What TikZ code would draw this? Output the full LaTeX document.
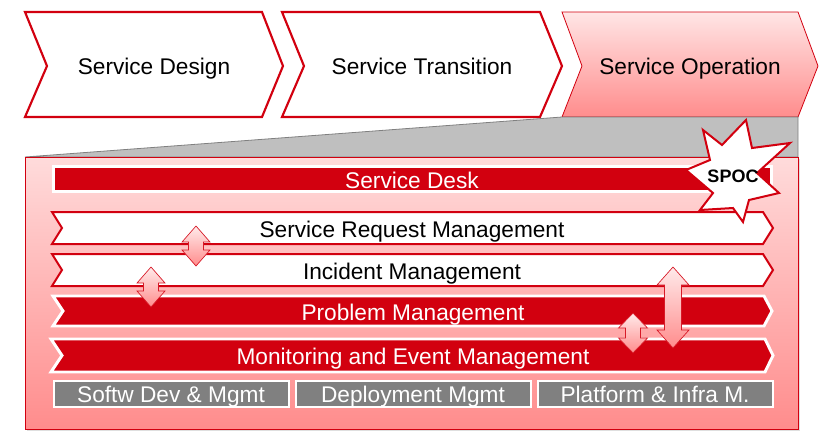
\documentclass[tikz,border=0pt]{standalone}
\usepackage{fontspec}
\setmainfont{Liberation Sans}
\usetikzlibrary{shadows}

\definecolor{itilred}{HTML}{D2000F}
\definecolor{boxgray}{HTML}{808080}
\definecolor{wedgegray}{HTML}{BFBFBF}

\tikzset{
	phase/.style={draw=itilred, line width=1.6pt, fill=white},
	lane/.style={draw=itilred, line width=1.5pt, fill=white},
	redlane/.style={draw=white, line width=2.2pt, fill=itilred},
	graybox/.style={draw=white, line width=2.2pt, fill=boxgray},
	arrowfill/.style={draw=itilred!90, line width=0.5pt, top color=red!8, bottom color=red!45},
	txt/.style={font=\fontsize{17}{20}\selectfont, anchor=base, inner sep=0pt},
	wtxt/.style={txt, text=white}
}

% double headed arrow: x, top, bottom, head half width, shaft half width, head length
\newcommand\biarrow[6]{
	\draw[arrowfill] (#1,#2) -- (#1+#4,#2+#6) -- (#1+#5,#2+#6) -- (#1+#5,#3-#6) -- (#1+#4,#3-#6)
		-- (#1,#3) -- (#1-#4,#3-#6) -- (#1-#5,#3-#6) -- (#1-#5,#2+#6) -- (#1-#4,#2+#6) -- cycle;
}

\begin{document}
\begin{tikzpicture}[x=0.75pt, y=-0.75pt]
	\useasboundingbox (0,0) rectangle (822,437);

	% lifecycle phases
	\draw[phase] (25,12) -- (262,12) -- (283,66) -- (262,117) -- (25,117) -- (47,66) -- cycle;
	\draw[phase] (282,12) -- (540,12) -- (562,66) -- (540,117) -- (282,117) -- (304,66) -- cycle;
	\draw[draw=itilred, line width=0.6pt, top color=red!10, bottom color=red!45]
		(562,12) -- (798,12) -- (818,66) -- (798,117) -- (562,117) -- (582,66) -- cycle;
	\node[txt] (design) at (154,74) {Service Design};
	\node[txt] (transition) at (422,74) {Service Transition};
	\node[txt] (operation) at (690,74) {Service Operation};

	% zoom wedge and operation box
	\draw[draw=gray, line width=0.6pt, fill=wedgegray] (25,157) -- (562,117) -- (798,117) -- (798,157) -- cycle;
	\draw[draw=itilred, line width=0.6pt, top color=red!14, bottom color=red!45,
		drop shadow={opacity=0.25, shadow xshift=1.5pt, shadow yshift=-1.5pt}] (25,157) rectangle (798,429);

	% service desk
	\draw[redlane, drop shadow={opacity=0.2, shadow xshift=1pt, shadow yshift=-1pt}] (53.5,166.5) rectangle (771.5,191.5);
	\node[wtxt] (desk) at (412,188) {Service Desk};

	% processes
	\draw[lane] (52,212) -- (763,212) -- (773,228) -- (763,244) -- (52,244) -- (62,228) -- cycle;
	\node[txt] (request) at (412,237) {Service Request Management};
	\draw[lane] (52,254) -- (763,254) -- (773,270) -- (763,286) -- (52,286) -- (62,270) -- cycle;
	\node[txt] (incident) at (412,279) {Incident Management};
	\draw[redlane] (53,296) -- (764,296) -- (772,311) -- (764,326) -- (53,326) -- (63,311) -- cycle;
	\node[wtxt] (problem) at (413,320) {Problem Management};
	\draw[redlane] (51,339) -- (765,339) -- (773,355.5) -- (765,372) -- (51,372) -- (62,355.5) -- cycle;
	\node[wtxt] (monitoring) at (413,364) {Monitoring and Event Management};

	% functions
	\draw[graybox] (54,381) rectangle (289,407);
	\draw[graybox] (296,381) rectangle (531,407);
	\draw[graybox] (538,381) rectangle (773,407);
	\node[wtxt] (softw) at (171,402) {Softw Dev \& Mgmt};
	\node[wtxt] (deploy) at (413,402) {Deployment Mgmt};
	\node[wtxt] (platform) at (655,402) {Platform \& Infra M.};

	% interfaces
	\biarrow{196}{226}{266}{14}{7.5}{16}
	\biarrow{151}{267}{307}{14}{7.5}{16}
	\biarrow{673}{267}{348}{16}{8.5}{18}
	\biarrow{633}{313}{353}{14.5}{7.5}{15}

	% single point of contact
	\draw[draw=itilred, line width=1.5pt, fill=white]
		(746,120) -- (752,148) -- (790,143) -- (757,173) -- (779,193) -- (749,200) -- (743,222)
		-- (733,208) -- (700,210) -- (713,193) -- (686,170) -- (710,160) -- (703,130) -- (722,145) -- cycle;
	\node[font=\fontsize{13.5}{16}\selectfont\bfseries, anchor=base, inner sep=0pt] (spoc) at (733,182) {SPOC};
\end{tikzpicture}
\end{document}
